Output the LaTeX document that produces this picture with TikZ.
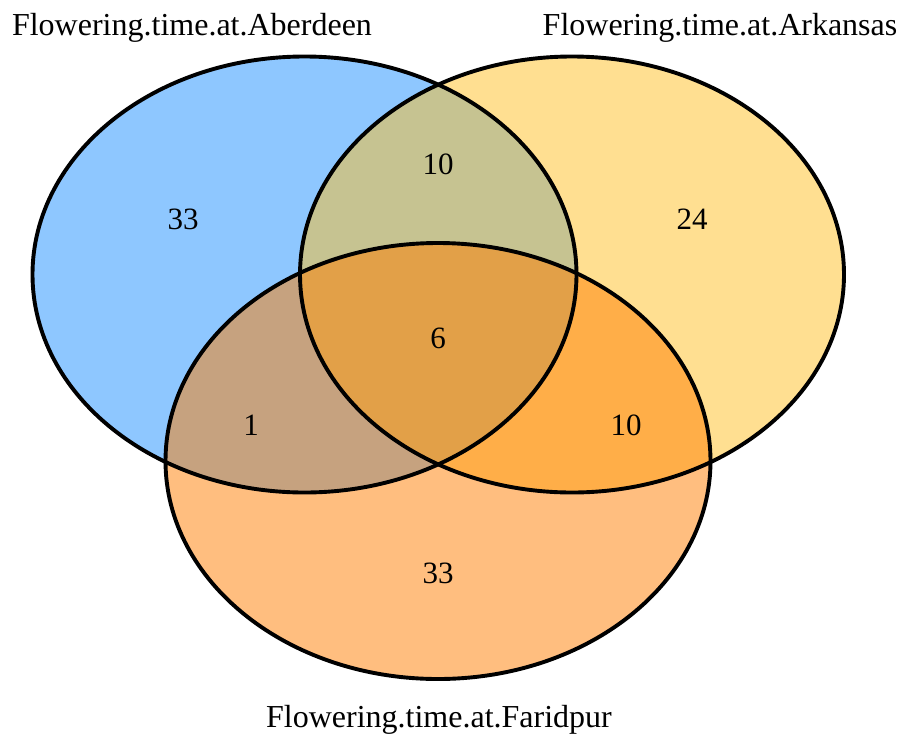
\documentclass[tikz,border=0pt]{standalone}
\usepackage{fontspec}
\setmainfont{Liberation Serif}
\definecolor{cA}{RGB}{30,144,255}
\definecolor{cB}{RGB}{255,193,37}
\definecolor{cC}{RGB}{255,127,0}
\tikzset{
  setfill/.style={fill=#1, fill opacity=0.5, draw=none},
  setline/.style={draw=black, line width=3.9pt},
  lbl/.style={font=\fontsize{32}{36}\selectfont, inner sep=0pt},
  cnt/.style={font=\fontsize{31}{36}\selectfont, inner sep=0pt},
}
\begin{document}
\begin{tikzpicture}[x=1pt,y=-1pt]
\useasboundingbox (0,0) rectangle (904,742);
\fill[white] (0,0) rectangle (904,742);
\coordinate (A) at (304.5,274.5);
\coordinate (B) at (572,274.5);
\coordinate (C) at (438,461);
\fill[setfill=cA] (A) ellipse [x radius=272, y radius=218];
\fill[setfill=cB] (B) ellipse [x radius=272, y radius=218];
\fill[setfill=cC] (C) ellipse [x radius=272.5, y radius=218];
\draw[setline] (A) ellipse [x radius=272, y radius=218];
\draw[setline] (B) ellipse [x radius=272, y radius=218];
\draw[setline] (C) ellipse [x radius=272.5, y radius=218];
\node[lbl, anchor=base] (tA) at (192,35) {Flowering.time.at.Aberdeen};
\node[lbl, anchor=base] (tB) at (720,35) {Flowering.time.at.Arkansas};
\node[lbl, anchor=base] (tC) at (439,727) {Flowering.time.at.Faridpur};
\node[cnt] (nA) at (183,219) {33};
\node[cnt] (nAB) at (438,164) {10};
\node[cnt] (nB) at (692,219) {24};
\node[cnt] (nABC) at (438,338) {6};
\node[cnt] (nAC) at (251,425) {1};
\node[cnt] (nBC) at (626,425) {10};
\node[cnt] (nC) at (438,573) {33};
\end{tikzpicture}
\end{document}
